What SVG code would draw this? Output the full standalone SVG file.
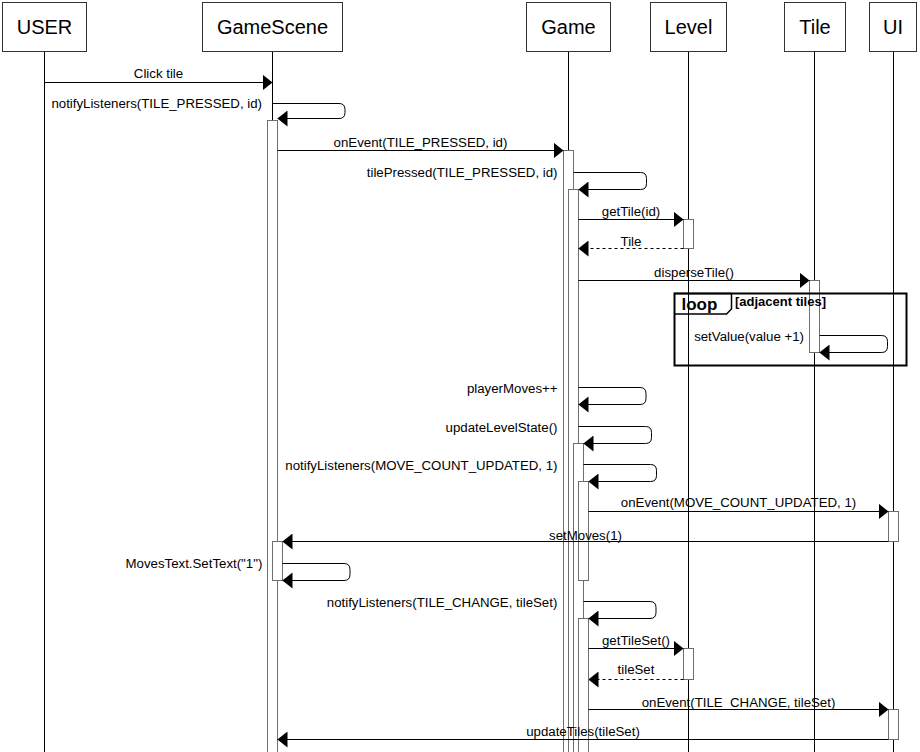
<svg xmlns="http://www.w3.org/2000/svg" width="920" height="752" viewBox="0 0 920 752">
  <style>
    .head rect { fill: #ffffff; stroke: #333333; stroke-width: 1; }
    .head text { font-family: "Liberation Sans", Arial, sans-serif; font-size: 20px; fill: #000000; text-anchor: middle; }
    .life { stroke: #000000; stroke-width: 1; fill: none; }
    .bar { fill: #ffffff; stroke: #6e6e6e; stroke-width: 1; }
    .msg { stroke: #000000; stroke-width: 1; fill: none; marker-end: url(#arrow); }
    .ret { stroke-dasharray: 3 3; }
    .lbl { font-family: "Liberation Sans", Arial, sans-serif; font-size: 13.25px; fill: #000000; }
    .mid { text-anchor: middle; }
    .end { text-anchor: end; }
    .frame { fill: none; stroke: #000000; stroke-width: 2; }
    .tab { fill: none; stroke: #000000; stroke-width: 1.5; }
    .bold { font-family: "Liberation Sans", Arial, sans-serif; font-weight: bold; fill: #000000; }
  </style>
  <defs>
    <marker id="arrow" viewBox="0 0 10 16" refX="10" refY="8" markerWidth="10" markerHeight="16" markerUnits="userSpaceOnUse" orient="auto">
      <path d="M0,0 L10,8 L0,16 Z" fill="#000000"/>
    </marker>
  </defs>
  <rect width="920" height="752" fill="#ffffff"/>

  <!-- participants with their lifelines and activation bars -->
  <g id="user">
    <line class="life" x1="44.5" y1="51.5" x2="44.5" y2="752"/>
    <g class="head"><rect x="2.5" y="2.5" width="84" height="49"/><text x="44.5" y="34">USER</text></g>
  </g>
  <g id="gamescene">
    <line class="life" x1="272.5" y1="51.5" x2="272.5" y2="752"/>
    <rect class="bar" x="267.5" y="120.5" width="10" height="640"/>
    <rect class="bar" x="272.5" y="541.5" width="10" height="39"/>
    <g class="head"><rect x="202.5" y="2.5" width="140" height="49"/><text x="272.5" y="34">GameScene</text></g>
  </g>
  <g id="game">
    <line class="life" x1="568.5" y1="51.5" x2="568.5" y2="752"/>
    <rect class="bar" x="563.5" y="150.5" width="10" height="610"/>
    <rect class="bar" x="568.5" y="189.5" width="10" height="570"/>
    <rect class="bar" x="573.5" y="443.5" width="10" height="320"/>
    <rect class="bar" x="578.5" y="481.5" width="10" height="99"/>
    <rect class="bar" x="578.5" y="618.5" width="10" height="140"/>
    <g class="head"><rect x="526.5" y="2.5" width="84" height="49"/><text x="568.5" y="34">Game</text></g>
  </g>
  <g id="level">
    <line class="life" x1="688.5" y1="51.5" x2="688.5" y2="752"/>
    <rect class="bar" x="683.5" y="219.5" width="10" height="29"/>
    <rect class="bar" x="683.5" y="648.5" width="10" height="31"/>
    <g class="head"><rect x="650.5" y="2.5" width="76" height="49"/><text x="688.5" y="34">Level</text></g>
  </g>
  <g id="tile">
    <line class="life" x1="814.5" y1="51.5" x2="814.5" y2="752"/>
    <rect class="bar" x="809.5" y="280.5" width="10" height="72"/>
    <g class="head"><rect x="784.5" y="2.5" width="61" height="49"/><text x="815" y="34">Tile</text></g>
  </g>
  <g id="ui">
    <line class="life" x1="893.5" y1="51.5" x2="893.5" y2="752"/>
    <rect class="bar" x="888.5" y="511.5" width="10" height="30"/>
    <rect class="bar" x="888.5" y="709.5" width="10" height="30"/>
    <g class="head"><rect x="869.5" y="2.5" width="47" height="49"/><text x="893" y="34">UI</text></g>
  </g>

  <!-- combined fragment -->
  <g id="loop">
    <rect class="frame" x="674.5" y="293.5" width="232" height="72"/>
    <path class="tab" d="M674.5,293.5 H731.5 V309 L726.5,314 H674.5"/>
    <text class="bold" x="681.5" y="310" font-size="17">loop</text>
    <text class="bold" x="735" y="305.5" font-size="13">[adjacent tiles]</text>
  </g>

  <!-- messages -->
  <g id="connectors">
    <line class="msg" x1="44.5" y1="82.5" x2="272.5" y2="82.5"/>
    <path class="msg" d="M272.5,103.5 H339 Q345,103.5 345,109.5 V112.5 Q345,118.5 339,118.5 H277.5"/>
    <line class="msg" x1="277.5" y1="150.5" x2="563.5" y2="150.5"/>
    <path class="msg" d="M573.5,172.5 H640.5 Q646.5,172.5 646.5,178.5 V183.5 Q646.5,189.5 640.5,189.5 H578.5"/>
    <line class="msg" x1="578.5" y1="219.5" x2="683.5" y2="219.5"/>
    <line class="msg ret" x1="683.5" y1="248.5" x2="578.5" y2="248.5"/>
    <line class="msg" x1="578.5" y1="280.5" x2="809.5" y2="280.5"/>
    <path class="msg" d="M819.5,335.5 H881.5 Q887.5,335.5 887.5,341.5 V346.5 Q887.5,352.5 881.5,352.5 H819.5"/>
    <path class="msg" d="M578.5,387.5 H640 Q646,387.5 646,393.5 V398.5 Q646,404.5 640,404.5 H578.5"/>
    <path class="msg" d="M578.5,426.5 H645.5 Q651.5,426.5 651.5,432.5 V437.5 Q651.5,443.5 645.5,443.5 H583.5"/>
    <path class="msg" d="M583.5,464.5 H650.5 Q656.5,464.5 656.5,470.5 V475.5 Q656.5,481.5 650.5,481.5 H588.5"/>
    <line class="msg" x1="588.5" y1="511.5" x2="888.5" y2="511.5"/>
    <line class="msg" x1="888.5" y1="541.5" x2="282.5" y2="541.5"/>
    <path class="msg" d="M282.5,563.5 H344 Q350,563.5 350,569.5 V574.5 Q350,580.5 344,580.5 H282.5"/>
    <path class="msg" d="M583.5,601.5 H650 Q656,601.5 656,607.5 V612.5 Q656,618.5 650,618.5 H588.5"/>
    <line class="msg" x1="588.5" y1="648.5" x2="683.5" y2="648.5"/>
    <line class="msg ret" x1="683.5" y1="679.5" x2="588.5" y2="679.5"/>
    <line class="msg" x1="588.5" y1="709.5" x2="888.5" y2="709.5"/>
    <line class="msg" x1="888.5" y1="739.5" x2="277.5" y2="739.5"/>
  </g>

  <!-- message labels -->
  <g id="labels" class="lbl">
    <text class="mid" x="158.5" y="78.3">Click tile</text>
    <text class="end" x="262" y="107.5">notifyListeners(TILE_PRESSED, id)</text>
    <text class="mid" x="420.5" y="147.3">onEvent(TILE_PRESSED, id)</text>
    <text class="end" x="557.5" y="176.7">tilePressed(TILE_PRESSED, id)</text>
    <text class="mid" x="631" y="216.3">getTile(id)</text>
    <text class="mid" x="631" y="246">Tile</text>
    <text class="mid" x="694" y="276.7">disperseTile()</text>
    <text class="end" x="804" y="341">setValue(value +1)</text>
    <text class="end" x="557.5" y="392.7">playerMoves++</text>
    <text class="end" x="557.5" y="431.5">updateLevelState()</text>
    <text class="end" x="557.5" y="470">notifyListeners(MOVE_COUNT_UPDATED, 1)</text>
    <text class="mid" x="738.5" y="506.7">onEvent(MOVE_COUNT_UPDATED, 1)</text>
    <text class="mid" x="585.5" y="540">setMoves(1)</text>
    <text class="end" x="262.3" y="568.3">MovesText.SetText("1")</text>
    <text class="end" x="557.3" y="607.3">notifyListeners(TILE_CHANGE, tileSet)</text>
    <text class="mid" x="636" y="645">getTileSet()</text>
    <text class="mid" x="636" y="674.3">tileSet</text>
    <text class="mid" x="738.5" y="706.7">onEvent(TILE_CHANGE, tileSet)</text>
    <text class="mid" x="583" y="736">updateTiles(tileSet)</text>
  </g>
</svg>
